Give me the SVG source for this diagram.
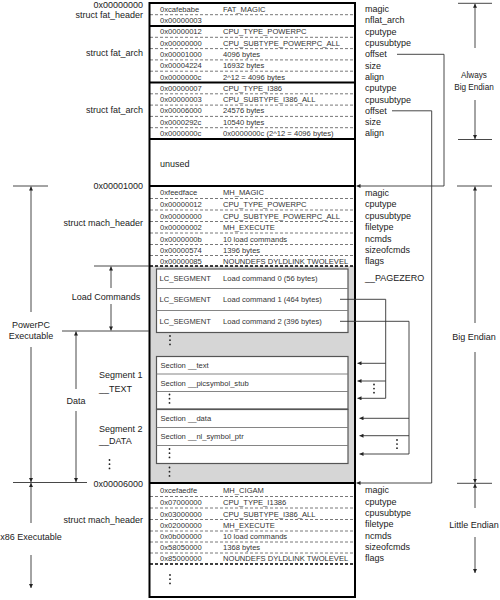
<svg xmlns="http://www.w3.org/2000/svg" width="500" height="600" viewBox="0 0 500 600">
<defs>
<marker id="ah" viewBox="0 0 6 6" refX="6" refY="3" markerWidth="4.5" markerHeight="4" markerUnits="userSpaceOnUse" orient="auto">
<path d="M0,0 L6,3 L0,6 z" fill="#222"/>
</marker>
</defs>
<style>
.t{font-family:"Liberation Sans",Arial,sans-serif;font-size:7.6px;fill:#333}
.l{font-family:"Liberation Sans",Arial,sans-serif;font-size:9px;fill:#222}
.e{text-anchor:end}
.m{text-anchor:middle}
.dash{stroke:#555;stroke-width:0.8;stroke-dasharray:3 2;fill:none}
.thick{stroke:#000;stroke-width:2}
.tdash{stroke:#000;stroke-width:1.4;stroke-dasharray:3 2}
.ln{stroke:#333;stroke-width:0.9;fill:none}
.arr{stroke:#333;stroke-width:0.9;fill:none;marker-end:url(#ah)}
.box{fill:#fff;stroke:#555;stroke-width:1.2}
.sep{stroke:#777;stroke-width:0.9}
.dot{fill:#222}
</style>
<rect x="149.5" y="3" width="205.5" height="594" fill="#fff"/>

<g id="fat_header">
<line class="dash" x1="150" y1="14.7" x2="354" y2="14.7"/>
<text class="t" x="160" y="11.5">0xcafebabe</text><text class="t" x="223" y="11.5">FAT_MAGIC</text>
<text class="t" x="160" y="23">0x00000003</text>
<line class="thick" x1="150" y1="26" x2="354" y2="26"/>
</g>

<g id="fat_arch_1">
<line class="dash" x1="150" y1="37.3" x2="354" y2="37.3"/>
<line class="dash" x1="150" y1="48.6" x2="354" y2="48.6"/>
<line class="dash" x1="150" y1="59.9" x2="354" y2="59.9"/>
<line class="dash" x1="150" y1="71.2" x2="354" y2="71.2"/>
<text class="t" x="160" y="34.3">0x00000012</text><text class="t" x="223" y="34.3">CPU_TYPE_POWERPC</text>
<text class="t" x="160" y="45.6">0x00000000</text><text class="t" x="223" y="45.6">CPU_SUBTYPE_POWERPC_ALL</text>
<text class="t" x="160" y="57">0x00001000</text><text class="t" x="223" y="57">4096 bytes</text>
<text class="t" x="160" y="68.3">0x00004224</text><text class="t" x="223" y="68.3">16932 bytes</text>
<text class="t" x="160" y="79.5">0x0000000c</text><text class="t" x="223" y="79.5">2^12 = 4096 bytes</text>
<line class="thick" x1="150" y1="82.5" x2="354" y2="82.5"/>
</g>

<g id="fat_arch_2">
<line class="dash" x1="150" y1="93.8" x2="354" y2="93.8"/>
<line class="dash" x1="150" y1="105.1" x2="354" y2="105.1"/>
<line class="dash" x1="150" y1="116.4" x2="354" y2="116.4"/>
<line class="dash" x1="150" y1="127.7" x2="354" y2="127.7"/>
<text class="t" x="160" y="90.8">0x00000007</text><text class="t" x="223" y="90.8">CPU_TYPE_I386</text>
<text class="t" x="160" y="102.1">0x00000003</text><text class="t" x="223" y="102.1">CPU_SUBTYPE_I386_ALL</text>
<text class="t" x="160" y="113.4">0x00006000</text><text class="t" x="223" y="113.4">24576 bytes</text>
<text class="t" x="160" y="124.7">0x0000292c</text><text class="t" x="223" y="124.7">10540 bytes</text>
<text class="t" x="160" y="136">0x0000000c</text><text class="t" x="223" y="136">0x0000000c (2^12 = 4096 bytes)</text>
<line class="thick" x1="150" y1="139" x2="354" y2="139"/>
</g>

<g id="unused">
<text class="l" x="160" y="166.5">unused</text>
<line class="thick" x1="150" y1="186" x2="354" y2="186"/>
</g>

<g id="mach_header_ppc">
<line class="dash" x1="150" y1="198.5" x2="354" y2="198.5"/>
<line class="dash" x1="150" y1="210" x2="354" y2="210"/>
<line class="dash" x1="150" y1="221.5" x2="354" y2="221.5"/>
<line class="dash" x1="150" y1="233" x2="354" y2="233"/>
<line class="dash" x1="150" y1="244.5" x2="354" y2="244.5"/>
<line class="dash" x1="150" y1="255.5" x2="354" y2="255.5"/>
<text class="t" x="160" y="195">0xfeedface</text><text class="t" x="223" y="195">MH_MAGIC</text>
<text class="t" x="160" y="207">0x00000012</text><text class="t" x="223" y="207">CPU_TYPE_POWERPC</text>
<text class="t" x="160" y="218.5">0x00000000</text><text class="t" x="223" y="218.5">CPU_SUBTYPE_POWERPC_ALL</text>
<text class="t" x="160" y="230">0x00000002</text><text class="t" x="223" y="230">MH_EXECUTE</text>
<text class="t" x="160" y="241.5">0x0000000b</text><text class="t" x="223" y="241.5">10 load commands</text>
<text class="t" x="160" y="252.7">0x00000574</text><text class="t" x="223" y="252.7">1396 bytes</text>
<text class="t" x="160" y="263.5">0x00000085</text><text class="t" x="223" y="263.5">NOUNDEFS DYLDLINK TWOLEVEL</text>
</g>

<g id="ppc_body">
<rect x="150" y="266" width="204.5" height="217" fill="#d6d6d6"/>
<line class="tdash" x1="150" y1="266" x2="354" y2="266"/>
</g>

<g id="load_commands">
<rect class="box" x="156.5" y="269" width="191.5" height="63.5"/>
<line class="sep" x1="156.5" y1="288.5" x2="348" y2="288.5"/>
<line class="sep" x1="156.5" y1="310.5" x2="348" y2="310.5"/>
<text class="t" x="159.5" y="281.2">LC_SEGMENT</text><text class="t" x="223" y="281.2">Load command 0 (56 bytes)</text>
<text class="t" x="159.5" y="302">LC_SEGMENT</text><text class="t" x="223" y="302">Load command 1 (464 bytes)</text>
<text class="t" x="159.5" y="324">LC_SEGMENT</text><text class="t" x="223" y="324">Load command 2 (396 bytes)</text>
<circle class="dot" cx="170" cy="336" r="0.9"/><circle class="dot" cx="170" cy="340.2" r="0.9"/><circle class="dot" cx="170" cy="344.4" r="0.9"/>
</g>

<g id="segment_text">
<rect class="box" x="156.5" y="356.5" width="191.5" height="52.5"/>
<line class="sep" x1="156.5" y1="374" x2="348" y2="374"/>
<line class="sep" x1="156.5" y1="391.5" x2="348" y2="391.5"/>
<text class="t" x="160.5" y="368">Section __text</text>
<text class="t" x="160.5" y="385.5">Section __picsymbol_stub</text>
<circle class="dot" cx="169.5" cy="394.5" r="0.9"/><circle class="dot" cx="169.5" cy="398.7" r="0.9"/><circle class="dot" cx="169.5" cy="402.9" r="0.9"/>
</g>

<g id="segment_data">
<rect class="box" x="156.5" y="409.5" width="191.5" height="54"/>
<line class="sep" x1="156.5" y1="427.5" x2="348" y2="427.5"/>
<line class="sep" x1="156.5" y1="445.5" x2="348" y2="445.5"/>
<text class="t" x="160.5" y="421.2">Section __data</text>
<text class="t" x="160.5" y="439.2">Section __nl_symbol_ptr</text>
<circle class="dot" cx="169.5" cy="449" r="0.9"/><circle class="dot" cx="169.5" cy="453.2" r="0.9"/><circle class="dot" cx="169.5" cy="457.4" r="0.9"/>
<circle class="dot" cx="169.5" cy="467.5" r="0.9"/><circle class="dot" cx="169.5" cy="471.7" r="0.9"/><circle class="dot" cx="169.5" cy="475.9" r="0.9"/>
</g>

<g id="mach_header_x86">
<line class="thick" x1="150" y1="483" x2="354" y2="483"/>
<line class="dash" x1="150" y1="496.5" x2="354" y2="496.5"/>
<line class="dash" x1="150" y1="508" x2="354" y2="508"/>
<line class="dash" x1="150" y1="519.5" x2="354" y2="519.5"/>
<line class="dash" x1="150" y1="531" x2="354" y2="531"/>
<line class="dash" x1="150" y1="542" x2="354" y2="542"/>
<line class="dash" x1="150" y1="553" x2="354" y2="553"/>
<line class="tdash" x1="150" y1="564" x2="354" y2="564"/>
<text class="t" x="160" y="492.5">0xcefaedfe</text><text class="t" x="223" y="492.5">MH_CIGAM</text>
<text class="t" x="160" y="505">0x07000000</text><text class="t" x="223" y="505">CPU_TYPE_I1386</text>
<text class="t" x="160" y="516.5">0x03000000</text><text class="t" x="223" y="516.5">CPU_SUBTYPE_I386_ALL</text>
<text class="t" x="160" y="528">0x02000000</text><text class="t" x="223" y="528">MH_EXECUTE</text>
<text class="t" x="160" y="539.2">0x0b000000</text><text class="t" x="223" y="539.2">10 load commands</text>
<text class="t" x="160" y="550.2">0x58050000</text><text class="t" x="223" y="550.2">1368 bytes</text>
<text class="t" x="160" y="561.2">0x85000000</text><text class="t" x="223" y="561.2">NOUNDEFS DYLDLINK TWOLEVEL</text>
<circle class="dot" cx="170" cy="575" r="0.9"/><circle class="dot" cx="170" cy="579.2" r="0.9"/><circle class="dot" cx="170" cy="583.4" r="0.9"/>
</g>

<rect x="149.5" y="3" width="205.5" height="594" fill="none" stroke="#000" stroke-width="2"/>

<g id="field_names">
<text class="l" x="365" y="11.8">magic</text>
<text class="l" x="365" y="23.3">nflat_arch</text>
<text class="l" x="365" y="34.6">cputype</text>
<text class="l" x="365" y="46">cpusubtype</text>
<text class="l" x="365" y="57.3">offset</text>
<text class="l" x="365" y="68.6">size</text>
<text class="l" x="365" y="79.9">align</text>
<text class="l" x="365" y="91.2">cputype</text>
<text class="l" x="365" y="102.5">cpusubtype</text>
<text class="l" x="365" y="113.8">offset</text>
<text class="l" x="365" y="125.1">size</text>
<text class="l" x="365" y="136.4">align</text>
<text class="l" x="365" y="195.5">magic</text>
<text class="l" x="365" y="207">cputype</text>
<text class="l" x="365" y="218.5">cpusubtype</text>
<text class="l" x="365" y="230">filetype</text>
<text class="l" x="365" y="241.5">ncmds</text>
<text class="l" x="365" y="252.5">sizeofcmds</text>
<text class="l" x="365" y="263.5">flags</text>
<text class="l" x="365" y="280.5">__PAGEZERO</text>
<text class="l" x="365" y="493">magic</text>
<text class="l" x="365" y="504.8">cputype</text>
<text class="l" x="365" y="516">cpusubtype</text>
<text class="l" x="365" y="527.3">filetype</text>
<text class="l" x="365" y="538.8">ncmds</text>
<text class="l" x="365" y="550.2">sizeofcmds</text>
<text class="l" x="365" y="561.2">flags</text>
</g>

<g id="left_labels">
<text class="l e" x="143" y="7.8">0x00000000</text>
<text class="l e" x="143" y="18.3">struct fat_header</text>
<text class="l e" x="143" y="56">struct fat_arch</text>
<text class="l e" x="143" y="113.3">struct fat_arch</text>
<text class="l e" x="143" y="189">0x00001000</text>
<text class="l e" x="143" y="225.5">struct mach_header</text>
<text class="l m" x="106" y="300">Load Commands</text>
<text class="l m" x="31" y="327.5">PowerPC</text>
<text class="l m" x="31" y="339">Executable</text>
<text class="l" x="99" y="378.2">Segment 1</text>
<text class="l" x="99" y="391.5">__TEXT</text>
<text class="l m" x="76" y="404">Data</text>
<text class="l" x="99" y="431.5">Segment 2</text>
<text class="l" x="99" y="444">__DATA</text>
<circle class="dot" cx="109.5" cy="460" r="0.9"/><circle class="dot" cx="109.5" cy="464.2" r="0.9"/><circle class="dot" cx="109.5" cy="468.4" r="0.9"/>
<text class="l e" x="143" y="486.5">0x00006000</text>
<text class="l e" x="143" y="523.3">struct mach_header</text>
<text class="l m" x="31" y="540">x86 Executable</text>
</g>

<g id="right_labels">
<text class="l m" x="474" y="78.3" style="font-size:8.2px">Always</text>
<text class="l m" x="474" y="89.5" style="font-size:8.2px">Big Endian</text>
<text class="l m" x="474" y="340">Big Endian</text>
<text class="l m" x="474" y="528">Little Endian</text>
</g>

<g id="connectors">
<line class="ln" x1="13" y1="186" x2="48" y2="186"/>
<line class="ln" x1="94" y1="266" x2="149" y2="266"/>
<line class="ln" x1="62" y1="331" x2="149" y2="331"/>
<line class="ln" x1="13" y1="482.5" x2="87" y2="482.5"/>
<line class="arr" x1="31" y1="312" x2="31" y2="186.5"/>
<line class="arr" x1="31" y1="347" x2="31" y2="482"/>
<line class="arr" x1="31" y1="523" x2="31" y2="483"/>
<line class="arr" x1="31" y1="555" x2="31" y2="588"/>
<line class="arr" x1="111" y1="288" x2="111" y2="266.5"/>
<line class="arr" x1="111" y1="304" x2="111" y2="330.5"/>
<line class="arr" x1="76" y1="389" x2="76" y2="331.5"/>
<line class="arr" x1="76" y1="411" x2="76" y2="482"/>

<line class="ln" x1="458" y1="3.3" x2="492" y2="3.3"/>
<line class="ln" x1="458" y1="139.5" x2="492" y2="139.5"/>
<line class="ln" x1="457" y1="186" x2="492" y2="186"/>
<line class="ln" x1="457" y1="483.3" x2="492" y2="483.3"/>
<line class="arr" x1="475" y1="48" x2="475" y2="3.8"/>
<line class="arr" x1="475" y1="100" x2="475" y2="139"/>
<line class="arr" x1="475" y1="323" x2="475" y2="186.5"/>
<line class="arr" x1="475" y1="352" x2="475" y2="482.8"/>
<line class="arr" x1="475" y1="508" x2="475" y2="483.8"/>
<line class="arr" x1="475" y1="537" x2="475" y2="573"/>

<path class="arr" d="M397,54.3 H444 V186 H356.5"/>
<path class="arr" d="M392,110.8 H431.7 V483 H356.5"/>

<path class="arr" d="M340,299.3 H385.7 V398.3 H357.5"/>
<line class="arr" x1="385.7" y1="363.3" x2="357.5" y2="363.3"/>
<line class="arr" x1="385.7" y1="381" x2="357.5" y2="381"/>
<circle class="dot" cx="374" cy="384.5" r="0.9"/><circle class="dot" cx="374" cy="388.6" r="0.9"/><circle class="dot" cx="374" cy="392.7" r="0.9"/>

<path class="arr" d="M340,321.3 H409 V454 H359.5"/>
<line class="arr" x1="409" y1="418.3" x2="359.5" y2="418.3"/>
<line class="arr" x1="409" y1="435.7" x2="359.5" y2="435.7"/>
<circle class="dot" cx="397" cy="440" r="0.9"/><circle class="dot" cx="397" cy="444.1" r="0.9"/><circle class="dot" cx="397" cy="448.2" r="0.9"/>
</g>
</svg>
